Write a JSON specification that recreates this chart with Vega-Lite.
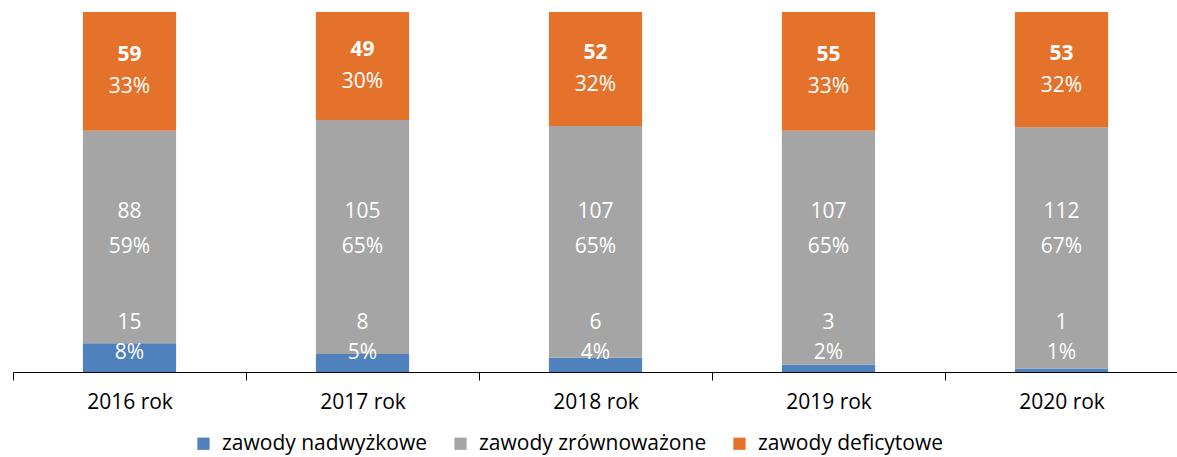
{
  "$schema": "https://vega.github.io/schema/vega-lite/v6.json",
  "width": 1165,
  "height": 360,
  "padding": {"left": 12, "top": 12, "right": 0, "bottom": 4},
  "config": {"font": "Open Sans", "view": {"stroke": null}},
  "data": {"values": [
    {"year": "2016 rok", "cat": "zawody nadwyżkowe", "count": 15, "pct": 8},
    {"year": "2016 rok", "cat": "zawody zrównoważone", "count": 88, "pct": 59},
    {"year": "2016 rok", "cat": "zawody deficytowe", "count": 59, "pct": 33},
    {"year": "2017 rok", "cat": "zawody nadwyżkowe", "count": 8, "pct": 5},
    {"year": "2017 rok", "cat": "zawody zrównoważone", "count": 105, "pct": 65},
    {"year": "2017 rok", "cat": "zawody deficytowe", "count": 49, "pct": 30},
    {"year": "2018 rok", "cat": "zawody nadwyżkowe", "count": 6, "pct": 4},
    {"year": "2018 rok", "cat": "zawody zrównoważone", "count": 107, "pct": 65},
    {"year": "2018 rok", "cat": "zawody deficytowe", "count": 52, "pct": 32},
    {"year": "2019 rok", "cat": "zawody nadwyżkowe", "count": 3, "pct": 2},
    {"year": "2019 rok", "cat": "zawody zrównoważone", "count": 107, "pct": 65},
    {"year": "2019 rok", "cat": "zawody deficytowe", "count": 55, "pct": 33},
    {"year": "2020 rok", "cat": "zawody nadwyżkowe", "count": 1, "pct": 1},
    {"year": "2020 rok", "cat": "zawody zrównoważone", "count": 112, "pct": 67},
    {"year": "2020 rok", "cat": "zawody deficytowe", "count": 53, "pct": 32}
  ]},
  "transform": [
    {"calculate": "indexof(['zawody nadwyżkowe','zawody zrównoważone','zawody deficytowe'], datum.cat)", "as": "ord"},
    {"stack": "pct", "groupby": ["year"], "sort": [{"field": "ord", "order": "ascending"}], "offset": "normalize", "as": ["p0", "p1"]},
    {"calculate": "(datum.p0 + datum.p1) / 2", "as": "mid"},
    {"calculate": "datum.pct + '%'", "as": "plabel"}
  ],
  "encoding": {
    "x": {"field": "year", "type": "nominal", "title": null,
      "scale": {"paddingInner": 0, "paddingOuter": 0},
      "axis": {"labelAngle": 0, "labelFontSize": 21, "labelColor": "#000", "domainColor": "#000", "tickColor": "#000", "tickSize": 8, "tickBand": "extent", "labelPadding": 11, "domainWidth": 1.2}}
  },
  "layer": [
    {"mark": {"type": "bar", "width": {"band": 0.4}},
     "encoding": {
       "y": {"field": "p0", "type": "quantitative", "scale": {"domain": [0, 1]}, "axis": null},
       "y2": {"field": "p1"},
       "color": {"field": "cat", "type": "nominal", "title": null,
         "scale": {"domain": ["zawody nadwyżkowe", "zawody zrównoważone", "zawody deficytowe"], "range": ["#4F81BD", "#A5A5A5", "#E4722A"]},
         "legend": {"orient": "none", "legendX": 180, "legendY": 421, "direction": "horizontal", "symbolType": "square", "symbolSize": 150, "labelFontSize": 21, "labelColor": "#000", "labelLimit": 0, "labelOffset": 8, "columnPadding": 22, "symbolStrokeWidth": 0}}
     }},
    {"transform": [{"filter": "datum.cat == 'zawody deficytowe'"}],
     "mark": {"type": "text", "color": "white", "fontSize": 21, "fontWeight": "bold", "dy": -16},
     "encoding": {"y": {"field": "mid", "type": "quantitative"}, "text": {"field": "count"}}},
    {"transform": [{"filter": "datum.cat == 'zawody deficytowe'"}],
     "mark": {"type": "text", "color": "white", "fontSize": 21, "dy": 16},
     "encoding": {"y": {"field": "mid", "type": "quantitative"}, "text": {"field": "plabel"}}},
    {"transform": [{"filter": "datum.cat == 'zawody zrównoważone'"}],
     "mark": {"type": "text", "color": "white", "fontSize": 21, "dy": -160},
     "encoding": {"y": {"datum": 0}, "text": {"field": "count"}}},
    {"transform": [{"filter": "datum.cat == 'zawody zrównoważone'"}],
     "mark": {"type": "text", "color": "white", "fontSize": 21, "dy": -125},
     "encoding": {"y": {"datum": 0}, "text": {"field": "plabel"}}},
    {"transform": [{"filter": "datum.cat == 'zawody nadwyżkowe'"}],
     "mark": {"type": "text", "color": "white", "fontSize": 21, "dy": -49},
     "encoding": {"y": {"datum": 0}, "text": {"field": "count"}}},
    {"transform": [{"filter": "datum.cat == 'zawody nadwyżkowe'"}],
     "mark": {"type": "text", "color": "white", "fontSize": 21, "dy": -19},
     "encoding": {"y": {"datum": 0}, "text": {"field": "plabel"}}}
  ]
}
